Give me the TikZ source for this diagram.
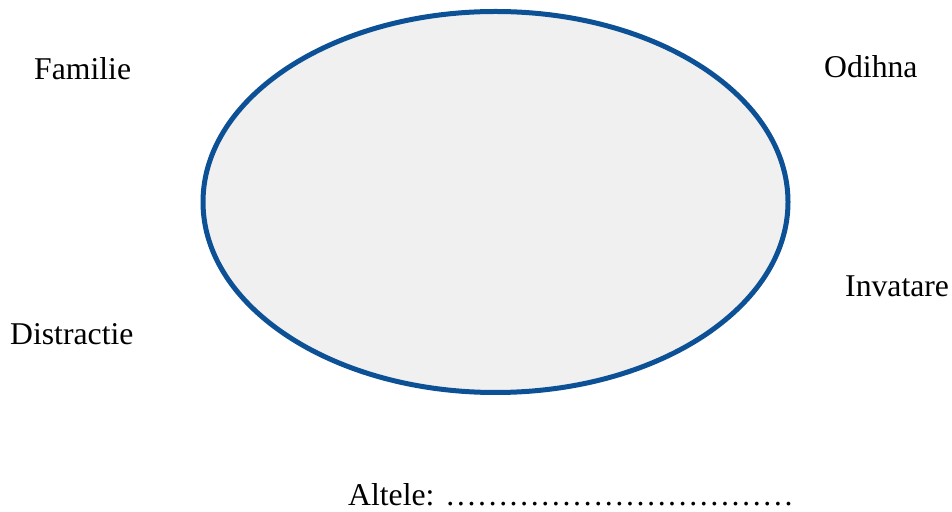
\documentclass[tikz,border=0pt]{standalone}
\usepackage{fontspec}
\setmainfont{Liberation Serif}
\newfontfamily\timesfont{Liberation Serif}
\usetikzlibrary{shapes.geometric}
\definecolor{ringblue}{HTML}{0C5196}
\definecolor{ringfill}{HTML}{F0F0F0}
\begin{document}
\begin{tikzpicture}[x=1pt,y=1pt,
  lbl/.style={anchor=base west,inner sep=0pt,font=\timesfont\fontsize{31.7}{36}\selectfont}]
\useasboundingbox (0,0) rectangle (952,511);
\node[draw=ringblue,line width=5pt,fill=ringfill,ellipse,minimum width=585pt,minimum height=381pt,inner sep=0pt] (ring) at (495.5,309) {};
\node[lbl] (familie) at (34,431) {Familie};
\node[lbl] (odihna) at (824,433) {Odihna};
\node[lbl] (invatare) at (845,214) {Invatare};
\node[lbl] (distractie) at (10,166) {Distractie};
\node[lbl] (altele) at (348,6) {Altele: ……………………………};
\end{tikzpicture}
\end{document}
